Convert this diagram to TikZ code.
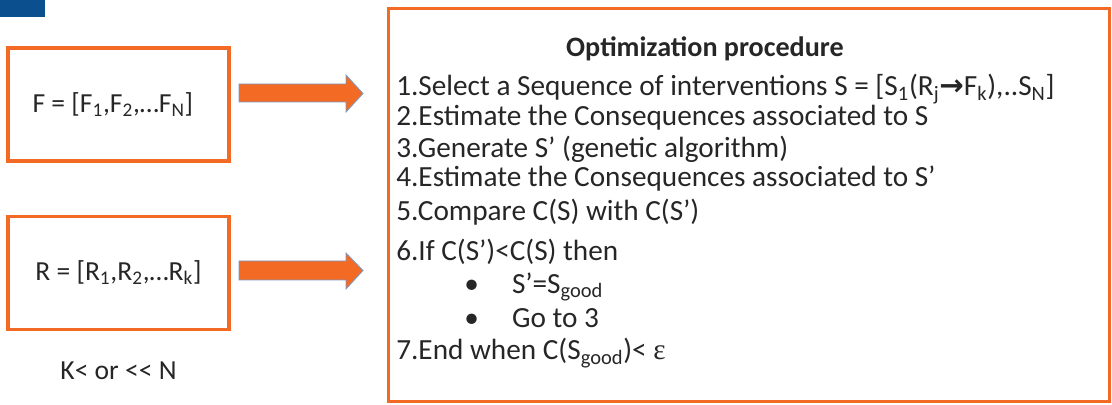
\documentclass[tikz,border=0pt]{standalone}
\usepackage{fontspec}
\setmainfont{Carlito}
\newfontfamily\symfont{DejaVu Sans}
\newfontfamily\greekfont{Liberation Serif}
\usetikzlibrary{positioning,calc}
\definecolor{orng}{HTML}{F26A23}
\definecolor{navy}{HTML}{0B4F8F}
\definecolor{arredge}{HTML}{7A9CC6}
\definecolor{ink}{HTML}{262626}
\tikzset{
  vecbox/.style={draw=orng,line width=2.2pt,minimum width=5.525cm,minimum height=2.825cm,
    font=\fontsize{19.6}{23}\selectfont\color{ink},align=center},
  procbox/.style={draw=orng,line width=2.2pt,minimum width=18cm,minimum height=9.8cm},
  proctitle/.style={font=\fontsize{20}{24}\selectfont\bfseries\color{ink},inner sep=0pt},
  procline/.style={anchor=west,font=\fontsize{20.8}{25}\selectfont\color{ink},inner sep=0pt},
  note/.style={font=\fontsize{19.6}{23}\selectfont\color{ink}},
  blockarr/.style={fill=orng,draw=arredge,line width=0.6pt,line join=miter},
}
\newcommand{\sub}[1]{\textsubscript{#1}}
\newcommand{\implarrow}{{\symfont\bfseries →}}
\newcommand{\bulletitem}[1]{\makebox[34pt][l]{•}#1}

\begin{document}
\begin{tikzpicture}[x=0.025cm,y=-0.025cm]
    \useasboundingbox (0,0) rectangle (1112,405);
    \fill[navy] (0,0) rectangle (45,17);

    % input vectors
    \node[vecbox] (fbox) at (118.5,104.5) {\hspace*{-8pt}F = [F\sub{1},F\sub{2},\dots F\sub{N}]};
    \node[vecbox,below=1.3cm of fbox] (rbox) {R = [R\sub{1},R\sub{2},\dots R\sub{k}]};
    \node[note,below=0.65cm of rbox] (ratio) {K< or {<}{<} N};

    % block arrows
    \draw[blockarr] (239,84) -- (346,84) -- (346,75) -- (363,93.5) -- (346,112) -- (346,102) -- (239,102) -- cycle;
    \draw[blockarr] (239,261) -- (346,261) -- (346,253) -- (363,270.5) -- (346,289) -- (346,280) -- (239,280) -- cycle;

    % procedure
    \node[procbox] (opt) at (749,205) {};
    \node[proctitle] (title) at (705,49) {Optimization procedure};
    \node[procline] (s1) at (396,89) {1.Select a Sequence of interventions S = [S\sub{1}(R\sub{j}\implarrow F\sub{k}),..S\sub{N}]};
    \node[procline] (s2) at (396,118) {2.Estimate the Consequences associated to S};
    \node[procline] (s3) at (396,149) {3.Generate S’ (genetic algorithm)};
    \node[procline] (s4) at (396,179) {4.Estimate the Consequences associated to S’};
    \node[procline] (s5) at (396,212) {5.Compare C(S) with C(S’)};
    \node[procline] (s6) at (396,252) {6.If C(S’)<C(S) then};
    \node[procline] (b1) at (464,287) {\bulletitem{S’=S\sub{good}}};
    \node[procline] (b2) at (464,318) {\bulletitem{Go to 3}};
    \node[procline] (s7) at (396,353) {7.End when C(S\sub{good})< {\greekfont ε}};
  \end{tikzpicture}
\end{document}
